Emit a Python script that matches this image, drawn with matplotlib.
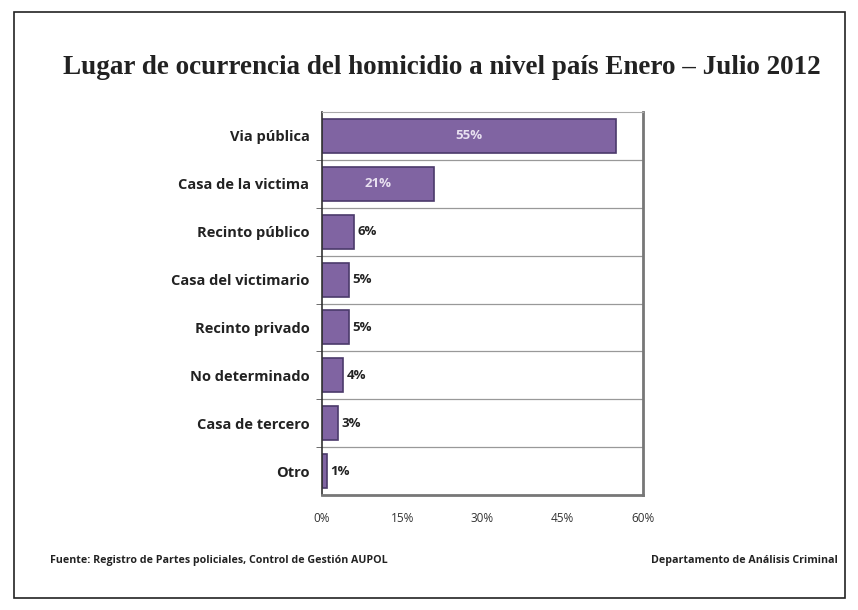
import matplotlib.pyplot as plt
from matplotlib.patches import Rectangle

categories = ['Via pública', 'Casa de la victima', 'Recinto público', 'Casa del victimario',
              'Recinto privado', 'No determinado', 'Casa de tercero', 'Otro']
values = [55, 21, 6, 5, 5, 4, 3, 1]
xticks = [0, 15, 30, 45, 60]

fig = plt.figure(figsize=(8.58, 6.10), dpi=100)
fig.patch.set_facecolor('white')

# outer frame
fig.patches.append(Rectangle((0.016, 0.02), 0.969, 0.96, transform=fig.transFigure,
                             fill=False, edgecolor='#222222', linewidth=1.2))

fig.text(442 / 858, 0.89, 'Lugar de ocurrencia del homicidio a nivel país Enero – Julio 2012',
         ha='center', va='center', fontsize=19.5, fontweight='bold',
         family='Liberation Serif', color='#222222')

# plot area: x 322-643, y 112-495 (pixels)
ax = fig.add_axes([322 / 858, 1 - 495 / 610, 321 / 858, 383 / 610])
y = list(range(len(categories)))
ax.barh(y, values, height=0.71, color='#8064A2', edgecolor='#4B3A6B', linewidth=1.2)
ax.set_xlim(0, 60)
ax.set_ylim(len(categories) - 0.5, -0.5)
ax.set_xticks(xticks)
ax.set_xticklabels([f'{t}%' for t in xticks], fontsize=8.5, color='#333333', family='Open Sans')
ax.set_yticks(y)
ax.set_yticklabels(categories, fontsize=10.5, fontweight='bold', color='#222222', family='Open Sans')
ax.tick_params(axis='y', length=0, pad=9)
ax.tick_params(axis='x', length=0, pad=12)
ax.set_yticks([i + 0.5 for i in y[:-1]], minor=True)
ax.tick_params(axis='y', which='minor', length=4, color='#555555')
ax.grid(axis='y', which='minor', color='#999999', linewidth=0.9)

ax.spines['top'].set_color('#aaaaaa')
ax.spines['right'].set_color('#777777')
ax.spines['right'].set_linewidth(2.0)
ax.spines['bottom'].set_color('#777777')
ax.spines['bottom'].set_linewidth(2.0)
ax.spines['left'].set_color('#333333')
ax.spines['left'].set_linewidth(1.2)

for i, v in enumerate(values):
    if v > 15:
        ax.text(v / 2, i, f'{v}%', ha='center', va='center', color='#e8e0f0',
                fontsize=9.5, fontweight='bold', family='Open Sans')
    else:
        ax.text(v + 0.6, i, f'{v}%', ha='left', va='center', color='#222222',
                fontsize=9.5, fontweight='bold', family='Open Sans')

fig.text(50 / 858, 1 - 560 / 610, 'Fuente: Registro de Partes policiales, Control de Gestión AUPOL',
         ha='left', va='center', fontsize=7.7, fontweight='bold', family='Open Sans', color='#222222')
fig.text(838 / 858, 1 - 560 / 610, 'Departamento de Análisis Criminal',
         ha='right', va='center', fontsize=7.7, fontweight='bold', family='Open Sans', color='#222222')

fig.savefig('out.png', dpi=100)
